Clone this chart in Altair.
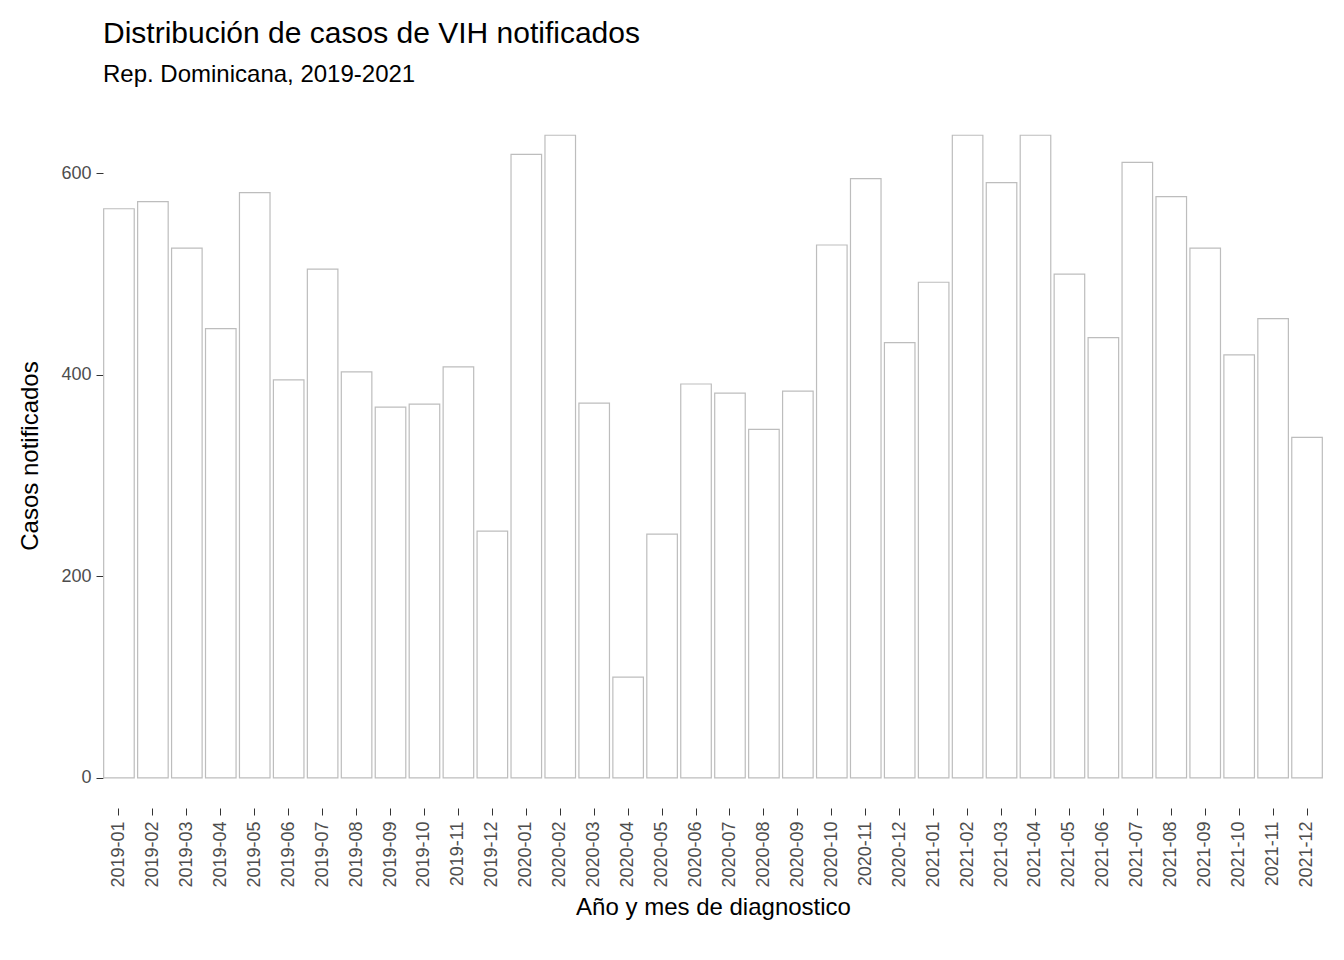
import pandas as pd
import altair as alt

months = [f"{y}-{m:02d}" for y in (2019, 2020, 2021) for m in range(1, 13)]
casos = [565, 572, 526, 446, 581, 395, 505, 403, 368, 371, 408, 245,
         619, 638, 372, 100, 242, 391, 382, 346, 384, 529, 595, 432,
         492, 638, 591, 638, 500, 437, 611, 577, 526, 420, 456, 338]

df = pd.DataFrame({"mes": months, "casos": casos})

chart = alt.Chart(df).mark_bar(fill="white", stroke="#bdbdbd", strokeWidth=1.2).encode(
    x=alt.X("mes:O", title="Año y mes de diagnostico",
            scale=alt.Scale(paddingInner=0.1, paddingOuter=0.02),
            axis=alt.Axis(labelAngle=270, labelFontSize=18, labelColor="#4d4d4d",
                          labelPadding=6, tickColor="#333333", tickSize=7,
                          domain=False, titleFontSize=24, titleFontWeight="normal",
                          titleColor="black", titlePadding=8)),
    y=alt.Y("casos:Q", title="Casos notificados",
            scale=alt.Scale(domain=[-30, 670], nice=False, zero=False),
            axis=alt.Axis(values=[0, 200, 400, 600], grid=False, domain=False,
                          labelFontSize=18, labelColor="#4d4d4d", tickColor="#333333",
                          tickSize=7, labelPadding=5, titleFontSize=24,
                          titleFontWeight="normal", titleColor="black", titlePadding=18)),
).properties(
    width=1220, height=705,
    title=alt.TitleParams("Distribución de casos de VIH notificados",
                          subtitle="Rep. Dominicana, 2019-2021",
                          anchor="start", frame="group", fontSize=30, fontWeight="normal",
                          subtitleFontSize=24, subtitlePadding=14, offset=16,
                          color="black", subtitleColor="black"),
    autosize=alt.AutoSizeParams(type="none"),
    padding={"left": 95, "top": 95, "right": 11, "bottom": 140},
).configure(font="Liberation Sans").configure_view(stroke=None)

chart.save("out.html", embed_options={"renderer": "svg", "actions": False})
